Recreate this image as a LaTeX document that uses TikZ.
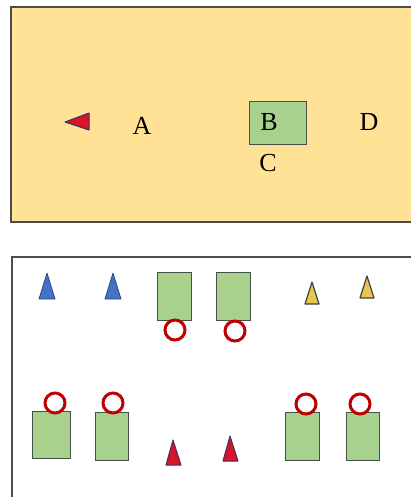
\documentclass[tikz,border=0pt]{standalone}
\usepackage{fontspec}
\setmainfont{Liberation Serif}
\definecolor{panelY}{RGB}{255,226,150}
\definecolor{boxG}{RGB}{169,209,142}
\definecolor{boxEdge}{RGB}{70,80,70}
\definecolor{ringR}{RGB}{192,0,0}
\definecolor{triB}{RGB}{68,114,196}
\definecolor{triBe}{RGB}{40,70,140}
\definecolor{triY}{RGB}{230,200,80}
\definecolor{triR}{RGB}{215,20,40}
\definecolor{triRe}{RGB}{60,50,100}
\begin{document}
\begin{tikzpicture}[x=1pt,y=-1pt,
  panel/.style={draw=black!70,line width=1.2pt},
  gbox/.style={draw=boxEdge,fill=boxG,line width=1pt,inner sep=0pt},
  ring/.style={circle,draw=ringR,line width=3pt,fill=white,minimum size=20pt,inner sep=0pt},
  lbl/.style={font=\fontsize{26}{28}\selectfont,inner sep=0pt},
  tblue/.style={fill=triB,draw=triBe,line width=0.8pt,line join=round},
  tyel/.style={fill=triY,draw=black!75,line width=1.2pt,line join=round},
  tred/.style={fill=triR,draw=triRe,line width=1pt,line join=round}]
\useasboundingbox (0,0) rectangle (410,497);
\fill[white] (0,0) rectangle (410,497);
% top panel
\draw[panel,fill=panelY] (11,7) rectangle (416,222);
\draw[tred] (65,122) -- (89,113) -- (89,130) -- cycle;
\node[lbl] (A) at (142,126) {A};
\node[gbox,minimum width=57pt,minimum height=43pt] (Bbox) at (277.5,123.5) {};
\node[lbl] (B) at (269,122) {B};
\node[lbl] (C) at (268,163) {C};
\node[lbl] (D) at (369,122) {D};
% bottom panel
\draw[panel] (12,257) rectangle (416,503);
\draw[tblue] (47,273) -- (55,299) -- (39,299) -- cycle;
\draw[tblue] (113,273) -- (121,299) -- (105,299) -- cycle;
\draw[tyel] (312,282) -- (319,304) -- (305,304) -- cycle;
\draw[tyel] (367,276) -- (374,298) -- (360,298) -- cycle;
\node[gbox,minimum width=34pt,minimum height=48pt] (r1) at (174,296) {};
\node[gbox,minimum width=34pt,minimum height=48pt] (r2) at (233,296) {};
\node[ring] (c1) at (175,330) {};
\node[ring] (c2) at (235,331) {};
\node[gbox,minimum width=38pt,minimum height=47pt] (r3) at (51,434.5) {};
\node[gbox,minimum width=33pt,minimum height=48pt] (r4) at (111.5,436) {};
\node[gbox,minimum width=34pt,minimum height=48pt] (r5) at (302,436) {};
\node[gbox,minimum width=33pt,minimum height=48pt] (r6) at (362.5,436) {};
\node[ring] (c3) at (55,403) {};
\node[ring] (c4) at (113,403) {};
\node[ring] (c5) at (306,404) {};
\node[ring] (c6) at (360,404) {};
\draw[tred] (173,440) -- (181,465) -- (166,465) -- cycle;
\draw[tred] (230,436) -- (238,461) -- (223,461) -- cycle;
\end{tikzpicture}
\end{document}
